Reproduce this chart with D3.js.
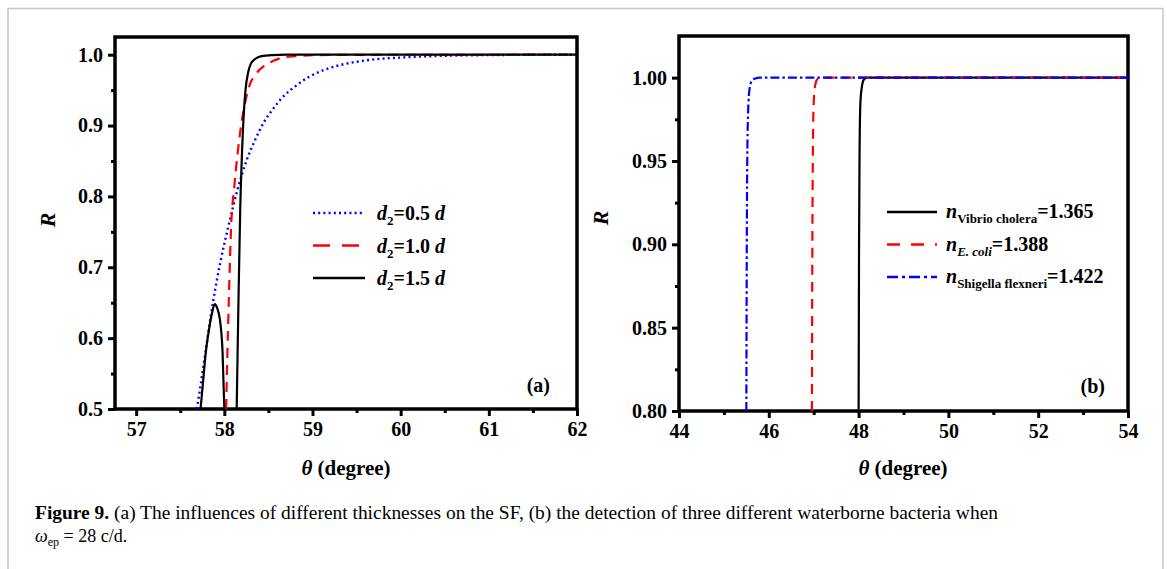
<!DOCTYPE html>
<html><head><meta charset="utf-8">
<script src="https://cdn.jsdelivr.net/npm/d3@7"></script>
<style>body{margin:0;background:#fff}svg{display:block}text{font-family:"Liberation Serif","Times New Roman",serif}</style>
</head><body><svg id="c" width="1167" height="569"></svg>
<script>
// ---- Panel (a) data ----
const aXTicks = [57, 58, 59, 60, 61, 62];
const aYTicks = [0.5, 0.6, 0.7, 0.8, 0.9, 1.0];
const aBlueX = [57.69,57.78,57.87,57.96,58.05,58.15,58.25,58.35,58.45,58.55,58.66,58.8,58.95,59.1,59.3,59.5,59.75,60.0,60.5,61.0,61.5,62.0];
const aBlueY = [0.50,0.575,0.65,0.71,0.76,0.81,0.85,0.88,0.905,0.923,0.94,0.955,0.968,0.977,0.985,0.990,0.994,0.996,0.9985,0.9995,0.9999,1.0];
const aRedX = [58.02,58.05,58.08,58.11,58.15,58.19,58.24,58.29,58.36,58.45,58.55,58.66,58.8,59.0,59.5,62.0];
const aRedY = [0.50,0.65,0.765,0.81,0.86,0.90,0.935,0.958,0.973,0.984,0.991,0.996,0.998,0.9993,0.9999,1.0];
const aBlackLobeX = [57.73,57.76,57.79,57.83,57.86,57.89,57.92,57.95,57.98,58.0];
const aBlackLobeY = [0.50,0.54,0.58,0.615,0.635,0.648,0.642,0.626,0.58,0.50];
const aBlackX = [58.14,58.16,58.18,58.20,58.22,58.24,58.27,58.30,58.35,58.42,58.55,58.7,62.0];
const aBlackY = [0.50,0.65,0.78,0.86,0.915,0.95,0.975,0.987,0.994,0.998,0.9995,1.0,1.0];
const aLegend = ["0.5", "1.0", "1.5"];
// ---- Panel (b) data ----
const bXTicks = [44, 46, 48, 50, 52, 54];
const bYTicks = [0.80, 0.85, 0.90, 0.95, 1.00];
const bBlackX = [48.0,48.01,48.02,48.04,48.07,48.12,48.2,54.0];
const bBlackY = [0.80,0.90,0.95,0.985,0.994,0.999,1.0,1.0];
const bRedX = [46.96,46.97,46.98,47.0,47.03,47.08,47.15,54.0];
const bRedY = [0.80,0.90,0.95,0.985,0.995,0.999,1.0,1.0];
const bBlueX = [45.50,45.51,45.52,45.54,45.57,45.62,45.7,45.8,54.0];
const bBlueY = [0.80,0.90,0.95,0.98,0.993,0.998,0.9995,1.0,1.0];
const bLegendSub = ["Vibrio cholera", "E. coli", "Shigella flexneri"];
const bLegendVal = ["1.365", "1.388", "1.422"];

const svg = d3.select("#c");
// outer gray frame
svg.append("path").attr("d","M8,575 L8,8.5 L1163,8.5 L1163,575").attr("fill","none").attr("stroke","#c8c8c8").attr("stroke-width",1.5);

const zip = (xs, ys) => xs.map((x,i)=>[x, ys[i]]);

function panel(opts){
  const {x0,x1,y0,y1,xd,yd,xt,yt,xminor,yminor,fmt,id} = opts;
  const x = d3.scaleLinear().domain(xd).range([x0,x1]);
  const y = d3.scaleLinear().domain(yd).range([y1,y0]);
  const g = svg.append("g");
  g.append("clipPath").attr("id",id).append("rect").attr("x",x0).attr("y",y0).attr("width",x1-x0).attr("height",y1-y0);
  // axes
  const xa = g.append("g").attr("transform",`translate(0,${y1})`).call(d3.axisBottom(x).tickValues(xt).tickSize(7).tickPadding(6).tickFormat(d3.format("d")));
  const xm = g.append("g").attr("transform",`translate(0,${y1})`).call(d3.axisBottom(x).tickValues(xminor).tickSize(4).tickFormat(""));
  const ya = g.append("g").attr("transform",`translate(${x0},0)`).call(d3.axisLeft(y).tickValues(yt).tickSize(7).tickPadding(5).tickFormat(fmt));
  const ym = g.append("g").attr("transform",`translate(${x0},0)`).call(d3.axisLeft(y).tickValues(yminor).tickSize(4).tickFormat(""));
  [xa,xm,ya,ym].forEach(a=>{a.select(".domain").remove();a.selectAll("line").attr("stroke","#000").attr("stroke-width",3);
    a.selectAll("text").attr("font-size",20).attr("font-weight","bold").attr("fill","#000");});
  g.append("rect").attr("x",x0).attr("y",y0).attr("width",x1-x0).attr("height",y1-y0).attr("fill","none").attr("stroke","#000").attr("stroke-width",3.5);
  const line = d3.line().x(d=>x(d[0])).y(d=>y(d[1])).curve(d3.curveMonotoneX);
  const lines = g.append("g").attr("clip-path",`url(#${id})`);
  return {x,y,g,line,lines};
}

// Panel (a)
const A = panel({x0:115,x1:577,y0:37,y1:409,xd:[56.76,62],yd:[0.5,1.025],xt:aXTicks,yt:aYTicks,
  xminor:[57.5,58.5,59.5,60.5,61.5],yminor:[0.55,0.65,0.75,0.85,0.95],fmt:d3.format(".1f"),id:"clipA"});
const styleA = [
  {data:zip(aBlueX,aBlueY), c:"#0000ff", dash:"2,3.2", w:2.4},
  {data:zip(aRedX,aRedY), c:"#ff0000", dash:"10,7", w:2.2},
  {data:zip(aBlackLobeX,aBlackLobeY), c:"#000", dash:null, w:2.2},
  {data:zip(aBlackX,aBlackY), c:"#000", dash:null, w:2.2}
];
styleA.forEach(s=>A.lines.append("path").attr("d",A.line(s.data)).attr("fill","none").attr("stroke",s.c).attr("stroke-width",s.w).attr("stroke-dasharray",s.dash));

// legend (a)
const legA = [{c:"#0000ff",dash:"2,3.2",w:2.4},{c:"#ff0000",dash:"17,12",w:2.6},{c:"#000",dash:null,w:2.6}];
legA.forEach((s,i)=>{
  const yy = 213 + i*32.5;
  svg.append("line").attr("x1",313).attr("x2",365).attr("y1",yy).attr("y2",yy).attr("stroke",s.c).attr("stroke-width",s.w).attr("stroke-dasharray",s.dash);
  const t = svg.append("text").attr("x",377).attr("y",yy+7).attr("font-size",20).attr("font-weight","bold");
  t.append("tspan").attr("font-style","italic").text("d");
  t.append("tspan").attr("font-size",13).attr("dy",5).text("2");
  t.append("tspan").attr("dy",-5).text("="+aLegend[i]+" ");
  t.append("tspan").attr("font-style","italic").text("d");
});
svg.append("text").attr("x",550).attr("y",392).attr("text-anchor","end").attr("font-size",20).attr("font-weight","bold").text("(a)");

// Panel (b)
const B = panel({x0:679,x1:1128,y0:36,y1:411,xd:[44,54],yd:[0.8,1.025],xt:bXTicks,yt:bYTicks,
  xminor:[45,47,49,51,53],yminor:[0.825,0.875,0.925,0.975],fmt:d3.format(".2f"),id:"clipB"});
const styleB = [
  {data:zip(bBlackX,bBlackY), c:"#000", dash:null, w:2.2},
  {data:zip(bRedX,bRedY), c:"#ff0000", dash:"10,7", w:2.2},
  {data:zip(bBlueX,bBlueY), c:"#0000ff", dash:"9,3,2.5,3", w:2.2}
];
styleB.forEach(s=>B.lines.append("path").attr("d",B.line(s.data)).attr("fill","none").attr("stroke",s.c).attr("stroke-width",s.w).attr("stroke-dasharray",s.dash));

const legB = [{c:"#000",dash:null},{c:"#ff0000",dash:"13,11"},{c:"#0000ff",dash:"11,4,3,4"}];
legB.forEach((s,i)=>{
  const yy = 212 + i*32.5;
  svg.append("line").attr("x1",887).attr("x2",937).attr("y1",yy).attr("y2",yy).attr("stroke",s.c).attr("stroke-width",2.6).attr("stroke-dasharray",s.dash);
  const t = svg.append("text").attr("x",946).attr("y",yy+6).attr("font-size",20).attr("font-weight","bold");
  t.append("tspan").attr("font-style","italic").text("n");
  t.append("tspan").attr("font-size",13).attr("dy",5).attr("font-style", i===1 ? "italic" : "normal").text(bLegendSub[i]);
  t.append("tspan").attr("dy",-5).text("="+bLegendVal[i]);
});
svg.append("text").attr("x",1105).attr("y",393).attr("text-anchor","end").attr("font-size",20).attr("font-weight","bold").text("(b)");

// axis titles
[[346,48,220],[903,601,218]].forEach(([cx,rx,ry])=>{
  const t = svg.append("text").attr("x",cx).attr("y",475).attr("text-anchor","middle").attr("font-size",21).attr("font-weight","bold");
  t.append("tspan").attr("font-style","italic").text("θ");
  t.append("tspan").text(" (degree)");
  svg.append("text").attr("transform",`translate(${rx+7},${ry}) rotate(-90)`).attr("text-anchor","middle").attr("font-size",22)
    .attr("font-weight","bold").attr("font-style","italic").text("R");
});

// caption
const c1 = svg.append("text").attr("x",35).attr("y",519).attr("font-size",18).attr("textLength",963).attr("lengthAdjust","spacingAndGlyphs");
c1.append("tspan").attr("font-weight","bold").text("Figure 9.");
c1.append("tspan").text(" (a) The influences of different thicknesses on the SF, (b) the detection of three different waterborne bacteria when");
const c2 = svg.append("text").attr("x",35).attr("y",542).attr("font-size",18);
c2.append("tspan").attr("font-style","italic").text("ω");
c2.append("tspan").attr("font-size",12).attr("dy",4).text("ep");
c2.append("tspan").attr("dy",-4).text(" = 28 c/d.");
</script></body></html>
